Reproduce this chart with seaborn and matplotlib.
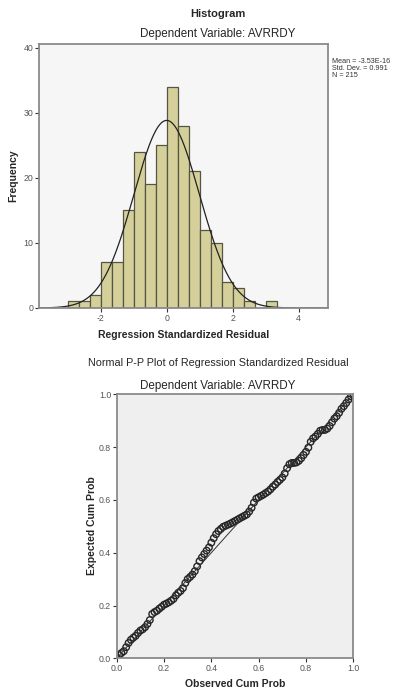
import numpy as np
import pandas as pd
import matplotlib
matplotlib.use("Agg")
import matplotlib.pyplot as plt
import seaborn as sns

# ---------------- data ----------------
bin_edges = [-3.0, -2.667, -2.333, -2.0, -1.667, -1.333, -1.0, -0.667, -0.333, 0.0,
             0.333, 0.667, 1.0, 1.333, 1.667, 2.0, 2.333, 2.667, 3.0, 3.333]
bin_counts = [1, 1, 2, 7, 7, 15, 24, 19, 25, 34, 28, 21, 12, 10, 4, 3, 1, 0, 1]
resid_mean = -3.53e-16
resid_sd = 0.991
n_obs = 215
hist_xticks = [-2, 0, 2, 4]
hist_yticks = [0, 10, 20, 30, 40]

pp_observed = [0.00, 0.01, 0.02, 0.03, 0.04, 0.05, 0.06, 0.07, 0.08, 0.09,
               0.10, 0.11, 0.12, 0.13, 0.14, 0.15, 0.16, 0.17, 0.18, 0.19,
               0.20, 0.21, 0.22, 0.23, 0.24, 0.25, 0.26, 0.27, 0.28, 0.29,
               0.30, 0.31, 0.32, 0.33, 0.34, 0.35, 0.36, 0.37, 0.38, 0.39,
               0.40, 0.41, 0.42, 0.43, 0.44, 0.45, 0.46, 0.47, 0.48, 0.49,
               0.50, 0.51, 0.52, 0.53, 0.54, 0.55, 0.56, 0.57, 0.58, 0.59,
               0.60, 0.61, 0.62, 0.63, 0.64, 0.65, 0.66, 0.67, 0.68, 0.69,
               0.70, 0.71, 0.72, 0.73, 0.74, 0.75, 0.76, 0.77, 0.78, 0.79,
               0.80, 0.81, 0.82, 0.83, 0.84, 0.85, 0.86, 0.87, 0.88, 0.89,
               0.90, 0.91, 0.92, 0.93, 0.94, 0.95, 0.96, 0.97, 0.98, 0.99,
               1.00]
pp_expected = [0.000, 0.012, 0.020, 0.027, 0.042, 0.058, 0.070, 0.078, 0.085, 0.096,
               0.105, 0.110, 0.118, 0.130, 0.145, 0.168, 0.175, 0.180, 0.188, 0.195,
               0.203, 0.207, 0.212, 0.218, 0.225, 0.238, 0.248, 0.255, 0.266, 0.285,
               0.300, 0.308, 0.317, 0.330, 0.348, 0.368, 0.382, 0.395, 0.408, 0.420,
               0.438, 0.455, 0.470, 0.482, 0.490, 0.498, 0.502, 0.506, 0.510, 0.515,
               0.520, 0.525, 0.530, 0.535, 0.540, 0.545, 0.556, 0.570, 0.590, 0.605,
               0.610, 0.615, 0.620, 0.626, 0.632, 0.640, 0.650, 0.658, 0.668, 0.676,
               0.685, 0.700, 0.720, 0.735, 0.740, 0.740, 0.742, 0.748, 0.758, 0.770,
               0.782, 0.798, 0.820, 0.833, 0.840, 0.850, 0.862, 0.865, 0.865, 0.870,
               0.880, 0.894, 0.908, 0.917, 0.930, 0.945, 0.955, 0.967, 0.980, 0.992,
               1.000]
pp_ticks = [0.0, 0.2, 0.4, 0.6, 0.8, 1.0]

# ---------------- style ----------------
sns.set_theme(style="white")
plt.rcParams['font.family'] = ['Liberation Sans', 'DejaVu Sans']
plt.rcParams['axes.unicode_minus'] = False

fig = plt.figure(figsize=(3.93, 6.90), dpi=100)
fig.patch.set_facecolor('white')

FRAME = '#8a8a8a'
TICKC = '#555555'

def style_axes(ax, face):
    ax.set_facecolor(face)
    for s in ax.spines.values():
        s.set_color(FRAME)
        s.set_linewidth(1.3)
    ax.tick_params(axis='both', direction='out', length=3, width=0.8, color='#333333',
                   labelsize=6.3, labelcolor=TICKC, pad=1,
                   bottom=True, left=True, top=False, right=False)

# ---------------- histogram ----------------
ax1 = fig.add_axes([39/393, 1-308/690, (328-39)/393, (308-44)/690])
centers = [(bin_edges[i] + bin_edges[i+1]) / 2 for i in range(len(bin_counts))]
hdf = pd.DataFrame({'x': centers, 'w': bin_counts})
sns.histplot(data=hdf, x='x', weights='w', bins=bin_edges, ax=ax1,
             color='#D5D09A', edgecolor='#555544', linewidth=0.9, alpha=1.0)
xs = np.linspace(-3.87, 4.89, 400)
pdf = n_obs * (1/3) * np.exp(-0.5 * ((xs - resid_mean) / resid_sd) ** 2) / (resid_sd * np.sqrt(2 * np.pi))
sns.lineplot(x=xs, y=pdf, ax=ax1, color='#222222', linewidth=0.9)
ax1.set_xlim(-3.87, 4.89)
ax1.set_ylim(0, 40.6)
ax1.set_xticks(hist_xticks)
ax1.set_yticks(hist_yticks)
ax1.set_xlabel('')
ax1.set_ylabel('')
style_axes(ax1, '#F6F6F6')

fig.text(218/393, 1-14/690, 'Histogram', ha='center', va='center', fontsize=8, fontweight='bold')
fig.text(218/393, 1-34/690, 'Dependent Variable: AVRRDY', ha='center', va='center', fontsize=8.4)
fig.text(183.5/393, 1-335/690, 'Regression Standardized Residual', ha='center', va='center',
         fontsize=7.5, fontweight='bold')
fig.text(13/393, 1-176/690, 'Frequency', ha='center', va='center', rotation=90,
         fontsize=7.5, fontweight='bold')
fig.text(332/393, 1-58/690,
         'Mean = -3.53E-16\nStd. Dev. = 0.991\nN = 215',
         ha='left', va='top', fontsize=5.2, color='#333333', linespacing=1.0)

# ---------------- P-P plot ----------------
ax2 = fig.add_axes([116.7/393, 1-658.3/690, (353.3-116.7)/393, (658.3-394.3)/690])
sns.lineplot(x=[0, 1], y=[0, 1], ax=ax2, color='#333333', linewidth=0.7)
sns.scatterplot(x=pp_observed, y=pp_expected, ax=ax2, marker='o', s=22,
                facecolor='none', edgecolor='#262626', linewidth=1.0)
ax2.set_xlim(0, 1)
ax2.set_ylim(0, 1)
ax2.set_xticks(pp_ticks)
ax2.set_yticks(pp_ticks)
ax2.set_xticklabels([f'{t:.1f}' for t in pp_ticks])
ax2.set_yticklabels([f'{t:.1f}' for t in pp_ticks])
style_axes(ax2, '#EFEFEF')

fig.text(218/393, 1-363/690, 'Normal P-P Plot of Regression Standardized Residual',
         ha='center', va='center', fontsize=7.75)
fig.text(218/393, 1-386/690, 'Dependent Variable: AVRRDY', ha='center', va='center', fontsize=8.4)
fig.text(235/393, 1-684/690, 'Observed Cum Prob', ha='center', va='center',
         fontsize=7.5, fontweight='bold')
fig.text(92/393, 1-526/690, 'Expected Cum Prob', ha='center', va='center', rotation=90,
         fontsize=7.5, fontweight='bold')

fig.savefig('out.png', dpi=100)
